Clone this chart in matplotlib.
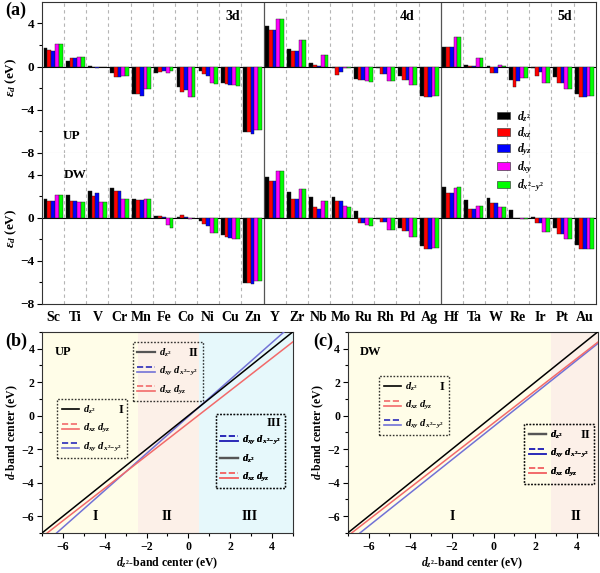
import numpy as np
import matplotlib.pyplot as plt
from matplotlib.lines import Line2D
from matplotlib.patches import Patch
from matplotlib.legend_handler import HandlerBase

plt.rcParams['font.family'] = 'Liberation Serif'
plt.rcParams['font.weight'] = 'bold'
plt.rcParams['axes.labelweight'] = 'bold'
plt.rcParams['mathtext.fontset'] = 'custom'
plt.rcParams['mathtext.rm'] = 'Liberation Serif:bold'
plt.rcParams['mathtext.it'] = 'Liberation Serif:italic:bold'
plt.rcParams['mathtext.bf'] = 'Liberation Serif:bold'

# ---------------------------------------------------------------------------
# datos panel (a)
# ---------------------------------------------------------------------------
elementos = ['Sc', 'Ti', 'V', 'Cr', 'Mn', 'Fe', 'Co', 'Ni', 'Cu', 'Zn',
             'Y', 'Zr', 'Nb', 'Mo', 'Ru', 'Rh', 'Pd', 'Ag',
             'Hf', 'Ta', 'W', 'Re', 'Ir', 'Pt', 'Au']
orbitales = ['$d_{z^2}$', '$d_{xz}$', '$d_{yz}$', '$d_{xy}$', '$d_{x^2\\!-\\!y^2}$']
colores_barras = ['#000000', '#ff0000', '#0000ff', '#ff00ff', '#00ff00']

up_dz2 = [1.69, 0.55, 0.06, -0.62, -2.55, -0.62, -1.85, -0.37, -1.54, -6.09,
          3.75, 1.60, 0.37, -0.15, -1.14, -0.09, -0.92, -2.68,
          1.85, 0.15, 0.02, -1.29, -0.09, -1.00, -2.52]
up_dxz = [1.54, 0.77, -0.03, -0.98, -2.58, -0.50, -2.40, -0.68, -1.63, -6.09,
          3.38, 1.45, 0.12, -0.77, -1.23, -0.68, -1.23, -2.86,
          1.85, 0.09, -0.62, -1.85, -0.86, -1.54, -2.83]
up_dyz = [1.48, 0.77, -0.12, -0.98, -2.68, -0.40, -2.20, -0.86, -1.72, -6.25,
          3.38, 1.45, 0.06, -0.46, -1.23, -0.68, -1.23, -2.86,
          1.85, 0.09, -0.62, -1.38, -0.46, -1.54, -2.83]
up_dxy = [2.09, 0.86, -0.02, -0.86, -2.09, -0.62, -2.86, -1.50, -1.72, -5.85,
          4.37, 2.49, 1.05, -0.15, -1.38, -1.38, -1.75, -2.77,
          2.71, 0.80, 0.12, -1.10, -1.54, -2.06, -2.77]
up_dx2 = [2.09, 0.86, -0.02, -0.86, -2.09, -0.40, -2.86, -1.57, -1.82, -5.85,
          4.37, 2.46, 1.05, -0.15, -1.45, -1.38, -1.75, -2.77,
          2.71, 0.80, 0.09, -1.10, -1.54, -2.06, -2.77]

dw_dz2 = [1.69, 2.09, 2.52, 2.77, 1.69, 0.15, 0.02, -0.31, -1.63, -6.09,
          3.75, 2.40, 1.90, 1.90, 0.58, -0.15, -0.92, -2.62,
          2.86, 1.63, 1.82, 0.71, 0.02, -1.00, -2.55]
dw_dxz = [1.54, 1.57, 1.97, 2.43, 1.63, 0.15, 0.28, -0.62, -1.75, -6.09,
          3.38, 1.75, 1.00, 1.54, -0.46, -0.40, -1.23, -2.86,
          2.25, 0.83, 1.38, -0.02, -0.52, -1.54, -2.86]
dw_dyz = [1.54, 1.57, 2.25, 2.43, 1.63, 0.02, 0.09, -0.77, -1.85, -6.18,
          3.38, 1.69, 0.83, 1.54, -0.46, -0.40, -1.23, -2.86,
          2.25, 0.83, 1.38, -0.02, -0.52, -1.54, -2.86]
dw_dxy = [2.09, 1.45, 1.48, 1.75, 1.75, -0.71, -0.15, -1.38, -2.00, -5.90,
          4.37, 2.68, 1.54, 1.08, -0.68, -1.17, -1.75, -2.77,
          2.77, 1.08, 1.00, -0.15, -1.32, -2.00, -2.86]
dw_dx2 = [2.09, 1.45, 1.48, 1.75, 1.75, -0.92, -0.06, -1.45, -2.00, -5.90,
          4.37, 2.68, 1.54, 1.00, -0.77, -1.17, -1.75, -2.77,
          2.83, 1.08, 1.00, -0.15, -1.32, -2.00, -2.86]

series_up = [up_dz2, up_dxz, up_dyz, up_dxy, up_dx2]
series_dw = [dw_dz2, dw_dxz, dw_dyz, dw_dxy, dw_dx2]
fin_bloques = [9.5, 17.5]   # 3d | 4d | 5d

# ---------------------------------------------------------------------------
# datos paneles (b) y (c): rectas de ajuste (extremos)
# ---------------------------------------------------------------------------
ajuste_x = [-7, 5]
b_dz2 = [-7.0, 5.0]
b_dxz = [-7.24, 4.40]
b_dxy = [-7.77, 5.46]
b_regiones = [(-7, -2.4, '#fffde8'), (-2.4, 0.5, '#fcf0e8'), (0.5, 5, '#e6f8fb')]

c_dz2 = [-7.0, 5.0]
c_dxz = [-7.18, 4.38]
c_dxy = [-7.58, 4.30]
c_regiones = [(-7, 2.75, '#fffde8'), (2.75, 5, '#fcf0e8')]

C_ROJO = '#f26a6a'
C_AZUL = '#7272d6'
C_NAVY = '#2a2ab8'


class HandlerPar(HandlerBase):
    """Dibuja una pareja de lineas (discontinua arriba, continua abajo)."""
    def create_artists(self, legend, orig_handle, xdescent, ydescent,
                       width, height, fontsize, trans):
        arts = []
        for ln, frac in zip(orig_handle, (0.9, 0.2)):
            y = frac * height - ydescent
            arts.append(Line2D([-xdescent, width - xdescent], [y, y],
                               color=ln.get_color(), ls=ln.get_linestyle(),
                               lw=ln.get_linewidth(), transform=trans))
        return arts


def par(c1, c2):
    return (Line2D([], [], color=c1, ls=(0, (2, 1)), lw=1.2),
            Line2D([], [], color=c2, ls='-', lw=1.2))


cajas = []


def caja_leyenda(ax, handles, labels, x0, y0, num):
    leg = ax.legend(handles, labels, loc='upper left', bbox_to_anchor=(x0, y0),
                    bbox_transform=ax.transAxes, borderaxespad=0, fontsize=7.5,
                    handlelength=1.7, handletextpad=0.35, labelspacing=0.55,
                    borderpad=0.45, fancybox=False, frameon=True,
                    handler_map={tuple: HandlerPar()})
    fr = leg.get_frame()
    fr.set_facecolor('none')
    fr.set_edgecolor('black')
    fr.set_linestyle((0, (1.2, 1.2)))
    fr.set_linewidth(1.0)
    ax.add_artist(leg)
    cajas.append((ax, leg, num))


def estilo_ejes(ax, size):
    for s in ax.spines.values():
        s.set_color('#333333')
    ax.tick_params(axis='both', which='major', direction='out', length=3.5,
                   labelsize=size, width=0.8, pad=2)
    ax.tick_params(axis='both', which='minor', direction='out', length=2, width=0.8)


# ---------------------------------------------------------------------------
# figura
# ---------------------------------------------------------------------------
fig = plt.figure(figsize=(6, 5.73), dpi=100)
ax_up = fig.add_axes([0.07, 0.733, 0.923, 0.264])
ax_dw = fig.add_axes([0.07, 0.4695, 0.923, 0.2635])
ax_b = fig.add_axes([0.07, 0.0698, 0.418, 0.351])
ax_c = fig.add_axes([0.5795, 0.0698, 0.4167, 0.351])

x = np.arange(len(elementos))
ancho = 0.171
for ax, series in ((ax_up, series_up), (ax_dw, series_dw)):
    for k, (vals, col) in enumerate(zip(series, colores_barras)):
        ax.bar(x + (k - 2) * ancho, vals, width=ancho, color=col,
               edgecolor='#222222', linewidth=0.3, label=orbitales[k], zorder=3)
    for xv in x[:-1] + 0.5:
        if xv in fin_bloques:
            ax.axvline(xv, color='#555555', lw=0.9, zorder=1)
        else:
            ax.axvline(xv, color='#b5b5b5', lw=0.8, ls=(0, (3, 3)), zorder=1)
    ax.axhline(0, color='black', lw=0.8, zorder=2)
    ax.set_xlim(-0.5, len(elementos) - 0.5)
    ax.set_ylim(-8, 6)
    ax.set_yticks([-8, -4, 0, 4])
    ax.set_ylabel(r'$\varepsilon_d$ (eV)', fontsize=9.5, labelpad=1)
    estilo_ejes(ax, 9.5)

ax_up.set_yticks([-6, -2, 2], minor=True)
ax_dw.set_yticks([-6, -2, 2], minor=True)
ax_up.spines['bottom'].set_color('#d0d0d0')
ax_dw.spines['top'].set_visible(False)
ax_up.set_xticks([])
ax_dw.set_xticks(x)
ax_dw.set_xticklabels(elementos, fontsize=10, fontweight='bold')
ax_dw.tick_params(axis='x', length=0, pad=5)
ax_up.tick_params(axis='x', length=0)

ax_up.text(8.1, 4.6, '3d', fontsize=10, ha='center', va='center')
ax_up.text(16.0, 4.6, '4d', fontsize=10, ha='center', va='center')
ax_up.text(23.1, 4.6, '5d', fontsize=10, ha='center', va='center')
ax_up.text(0.85, -6.4, 'UP', fontsize=9.5, ha='center', va='center')
ax_dw.text(1.0, 4.0, 'DW', fontsize=9.5, ha='center', va='center')

handles_a = [Patch(facecolor=c, edgecolor='#444444', linewidth=0.5) for c in colores_barras]
fig.legend(handles_a, orbitales, loc='upper left', bbox_to_anchor=(0.828, 0.81),
           frameon=False, fontsize=8.5, handlelength=1.1, handleheight=0.6,
           handletextpad=0.6, labelspacing=0.12, borderpad=0, borderaxespad=0)

# panel (b)
for x0, x1, col in b_regiones:
    ax_b.axvspan(x0, x1, color=col, zorder=0, lw=0)
ax_b.plot(ajuste_x, b_dxy, color=C_AZUL, lw=1.1, zorder=3)
ax_b.plot(ajuste_x, b_dxz, color=C_ROJO, lw=1.1, zorder=3)
ax_b.plot(ajuste_x, b_dz2, color='black', lw=1.1, zorder=4)

# panel (c)
for x0, x1, col in c_regiones:
    ax_c.axvspan(x0, x1, color=col, zorder=0, lw=0)
ax_c.plot(ajuste_x, c_dxy, color=C_AZUL, lw=1.1, zorder=3)
ax_c.plot(ajuste_x, c_dxz, color=C_ROJO, lw=1.1, zorder=3)
ax_c.plot(ajuste_x, c_dz2, color='black', lw=1.1, zorder=4)

for ax in (ax_b, ax_c):
    ax.set_xlim(-7, 5)
    ax.set_ylim(-7, 5)
    ax.set_xticks([-6, -4, -2, 0, 2, 4])
    ax.set_yticks([-6, -4, -2, 0, 2, 4])
    ax.set_xticks(np.arange(-7, 5.5, 1), minor=True)
    ax.set_yticks(np.arange(-7, 5.5, 1), minor=True)
    ax.set_xlabel('$d_{z^2}$-band center (eV)', fontsize=8.5, labelpad=2)
    ax.set_ylabel('$d$-band center (eV)', fontsize=8.5, labelpad=1)
    estilo_ejes(ax, 8.5)

lab_dz2 = '$d_{z^2}$'
lab_xz = '$d_{xz}\\ d_{yz}$'
lab_xy = '$d_{xy}\\ d_{x^2\\!-\\!y^2}$'
linea_negra = Line2D([], [], color='black', lw=1.2)
linea_gris = Line2D([], [], color='#555555', lw=1.6)
vacio = Line2D([], [], color='none')

caja_leyenda(ax_b, [linea_negra, par(C_ROJO, C_ROJO), par(C_NAVY, C_AZUL)],
             [lab_dz2, lab_xz, lab_xy], 0.06, 0.667, 'I')
caja_leyenda(ax_b, [linea_gris, par(C_NAVY, C_AZUL), par(C_ROJO, C_ROJO)],
             [lab_dz2, lab_xy, lab_xz], 0.362, 0.95, 'II')
caja_leyenda(ax_b, [vacio, par(C_NAVY, C_NAVY), linea_gris, par(C_ROJO, C_ROJO)],
             [' ', lab_xy, lab_dz2, lab_xz], 0.692, 0.592, 'III')
ax_b.text(0.05, 0.90, 'UP', transform=ax_b.transAxes, fontsize=9, va='center')
for xt, t in ((-4.47, 'I'), (-1.04, 'II'), (2.94, 'III')):
    ax_b.text(xt, -6.0, t, fontsize=10, ha='center', va='center')

caja_leyenda(ax_c, [linea_negra, par(C_ROJO, C_ROJO), par(C_NAVY, C_AZUL)],
             [lab_dz2, lab_xz, lab_xy], 0.125, 0.781, 'I')
caja_leyenda(ax_c, [linea_gris, par(C_NAVY, C_NAVY), par(C_ROJO, C_ROJO)],
             [lab_dz2, lab_xy, lab_xz], 0.705, 0.542, 'II')
ax_c.text(0.05, 0.90, 'DW', transform=ax_c.transAxes, fontsize=9, va='center')
for xt, t in ((-2.0, 'I'), (3.96, 'II')):
    ax_c.text(xt, -6.0, t, fontsize=10, ha='center', va='center')

fig.text(0.008, 0.982, '(a)', fontsize=13, fontweight='bold', va='center')
fig.text(0.008, 0.405, '(b)', fontsize=13, fontweight='bold', va='center')
fig.text(0.522, 0.405, '(c)', fontsize=13, fontweight='bold', va='center')

# numeros romanos dentro de cada caja, en la primera fila
fig.canvas.draw()
rend = fig.canvas.get_renderer()
for ax, leg, num in cajas:
    bb = leg.get_window_extent(rend)
    tb = leg.get_texts()[0].get_window_extent(rend)
    inv = ax.transAxes.inverted()
    xr, yr = inv.transform((bb.x1 - 4, (tb.y0 + tb.y1) / 2))
    ax.text(xr, yr, num, transform=ax.transAxes, fontsize=9,
            ha='right', va='center', fontweight='bold')

plt.savefig('out.png', dpi=100)
plt.close()
